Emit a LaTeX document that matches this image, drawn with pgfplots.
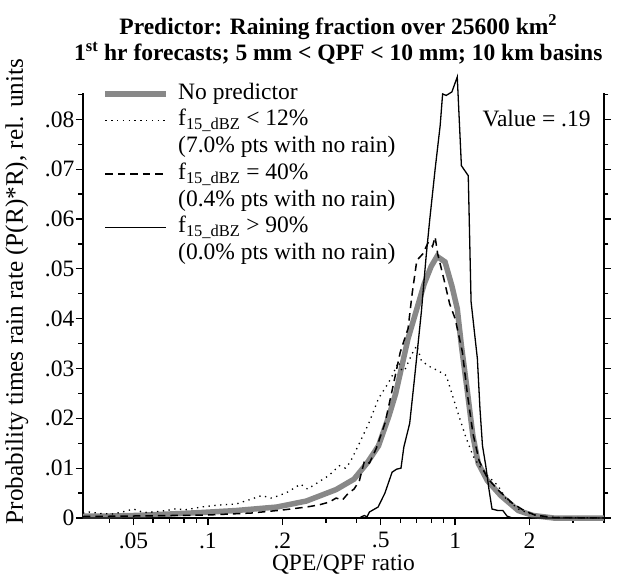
\documentclass[border=0pt]{standalone}
\usepackage{fontspec}
\setmainfont{Liberation Serif}
\usepackage{pgfplots}
\pgfplotsset{compat=1.18}
\definecolor{greyline}{RGB}{136,136,136}
\newcommand{\fs}{\fontsize{23.5}{27}\selectfont}
\begin{document}
\begin{tikzpicture}
\path (-83pt,-61pt) rectangle (535pt,518pt);
\begin{axis}[
  at={(0pt,0pt)}, anchor=south west,
  scale only axis, width=521pt, height=425.3pt,
  xmode=log, xmin=0.03125, xmax=4,
  ymin=0, ymax=0.08535,
  scaled y ticks=false,
  axis x line*=bottom, axis y line*=box,
  axis line style={line width=2pt, -},
  tick align=outside,
  major tick length=7pt, minor tick length=4.5pt,
  every tick/.style={black, line width=1.3pt},
  xtick={0.05,0.1,0.2,0.5,1,2},
  xticklabels={.05,.1,.2,.5,1,2},
  minor xtick={0.04,0.06,0.07,0.08,0.09,0.3,0.4,0.6,0.7,0.8,0.9,3,4},
  ytick={0,0.01,0.02,0.03,0.04,0.05,0.06,0.07,0.08},
  yticklabels={0,.01,.02,.03,.04,.05,.06,.07,.08},
  minor ytick={0.005,0.015,0.025,0.035,0.045,0.055,0.065,0.075,0.085},
  /pgf/number format/assume math mode=true,
  tick label style={font=\fs},
  xticklabel style={yshift=-4pt},
  yticklabel style={inner xsep=1.5pt},
  xlabel={QPE/QPF ratio},
  ylabel={Probability times rain rate (P(R)*R), rel. units},
  every axis x label/.style={at={(axis description cs:0.5,0)}, anchor=base, yshift=-52pt, font=\fs},
  every axis y label/.style={at={(axis description cs:-0.1152,0.5326)}, rotate=90, anchor=base, font=\fontsize{25.2}{28}\selectfont},
  clip=false,
  legend cell align=left,
  legend image code/.code={\draw[#1] (0pt,0pt) -- (61pt,0pt);},
  legend style={at={(axis description cs:0.0378,1.0245)}, anchor=north west, draw=none, fill=none,
    inner sep=0pt, outer sep=0pt, row sep=3.7pt, column sep=9pt,
    nodes={inner sep=0pt, text height=17pt, text depth=6pt, font=\fs}},
]
\addplot[greyline, line width=5.5pt] coordinates {
(0.03125,0.0004) (0.04,0.0004) (0.05,0.0005) (0.07,0.0008) (0.094,0.0011) (0.13,0.0015)
(0.19,0.0022) (0.25,0.0034) (0.33,0.0057) (0.39,0.0078) (0.44,0.0110) (0.49,0.0145)
(0.54,0.0205) (0.575,0.0250) (0.645,0.0360) (0.75,0.0470) (0.80,0.0505) (0.845,0.0525)
(0.91,0.0514) (0.97,0.0466) (1.02,0.0420) (1.06,0.0346) (1.12,0.0255) (1.18,0.0165)
(1.24,0.0110) (1.35,0.0075) (1.53,0.0045) (1.8,0.0015) (2.07,0.0005) (2.5,0.0) (4,0.0)};
\addlegendentry{No predictor}
\addplot[black, line width=1.3pt, dash pattern=on 1.3pt off 4.5pt] coordinates {
(0.03125,0.0010) (0.033,0.0012) (0.037,0.0009) (0.041,0.0008) (0.045,0.0012) (0.05,0.0018)
(0.055,0.0011) (0.06,0.0012) (0.068,0.0015) (0.075,0.0019) (0.08,0.0016) (0.094,0.0022)
(0.11,0.0026) (0.13,0.0028) (0.15,0.0038) (0.165,0.0045) (0.18,0.0040) (0.194,0.0045)
(0.21,0.0052) (0.237,0.0068) (0.253,0.0058) (0.28,0.0072) (0.308,0.0085) (0.34,0.0105)
(0.36,0.0100) (0.376,0.0112) (0.41,0.0150) (0.45,0.0193) (0.49,0.0240) (0.52,0.0260)
(0.55,0.0280) (0.59,0.0313) (0.61,0.0295) (0.63,0.0300) (0.67,0.0330) (0.70,0.0346)
(0.73,0.0316) (0.78,0.0305) (0.85,0.0296) (0.92,0.0286) (0.97,0.0250) (1.02,0.0215)
(1.1,0.0165) (1.18,0.0125) (1.25,0.0105) (1.35,0.0085) (1.49,0.0065) (1.6,0.0040)
(1.8,0.0018) (2.0,0.0009) (2.15,0.0005) (2.5,0.0001) (4,0.0)};
\addlegendentry{f\textsubscript{15\_dBZ} < 12\%}
\addlegendimage{empty legend}
\addlegendentry{(7.0\% pts with no rain)}
\addplot[black, line width=1.5pt, dash pattern=on 7.5pt off 5pt] coordinates {
(0.03125,0.0003) (0.05,0.0004) (0.1,0.0006) (0.15,0.0010) (0.2,0.0016) (0.25,0.0022)
(0.28,0.0026) (0.31,0.0032) (0.33,0.0040) (0.35,0.0036) (0.37,0.0050) (0.39,0.0058)
(0.41,0.0075) (0.43,0.0115) (0.45,0.0110) (0.48,0.0140) (0.52,0.0190) (0.55,0.0245)
(0.6,0.0333) (0.645,0.0380) (0.67,0.0450) (0.70,0.0517) (0.74,0.0530) (0.78,0.0554)
(0.81,0.0545) (0.83,0.0564) (0.85,0.0530) (0.9,0.0480) (0.95,0.0430) (1.0,0.0400)
(1.07,0.0333) (1.12,0.0250) (1.18,0.0170) (1.25,0.0115) (1.35,0.0080) (1.5,0.0055)
(1.7,0.0030) (1.9,0.0015) (2.1,0.0006) (2.5,0.0001) (4,0.0)};
\addlegendentry{f\textsubscript{15\_dBZ} = 40\%}
\addlegendimage{empty legend}
\addlegendentry{(0.4\% pts with no rain)}
\addplot[black, line width=1.3pt] coordinates {
(0.03125,0.0) (0.41,0.0) (0.42,0.0003) (0.43,0.0005) (0.44,0.0002) (0.45,0.0012)
(0.488,0.0022) (0.52,0.0050) (0.556,0.0092) (0.58,0.0098) (0.604,0.0100) (0.62,0.0142)
(0.655,0.0190) (0.685,0.0280) (0.73,0.0413) (0.764,0.0527) (0.79,0.0600) (0.83,0.0700)
(0.87,0.0788) (0.89,0.0851) (0.92,0.0848) (0.97,0.0855) (1.02,0.0885) (1.06,0.0707)
(1.13,0.0687) (1.16,0.0434) (1.23,0.0320) (1.26,0.0220) (1.29,0.0145) (1.33,0.0105)
(1.37,0.0058) (1.41,0.0018) (1.49,0.0015) (1.56,0.0015) (1.62,0.0004) (1.7,0.0) (4,0.0)};
\addlegendentry{f\textsubscript{15\_dBZ} > 90\%}
\addlegendimage{empty legend}
\addlegendentry{(0.0\% pts with no rain)}
\node[anchor=east, inner sep=0pt, font=\fs] at (axis description cs:0.9745,0.9398) {Value = .19};
\node[anchor=north, inner sep=0pt, align=center, font=\fontsize{23.5}{26}\selectfont\bfseries]
  at (axis description cs:0.49,1.183)
  {Predictor: Raining fraction over 25600 km\textsuperscript{2}\\
   1\textsuperscript{st} hr forecasts; 5 mm < QPF < 10 mm; 10 km basins};
\end{axis}
\end{tikzpicture}
\end{document}
